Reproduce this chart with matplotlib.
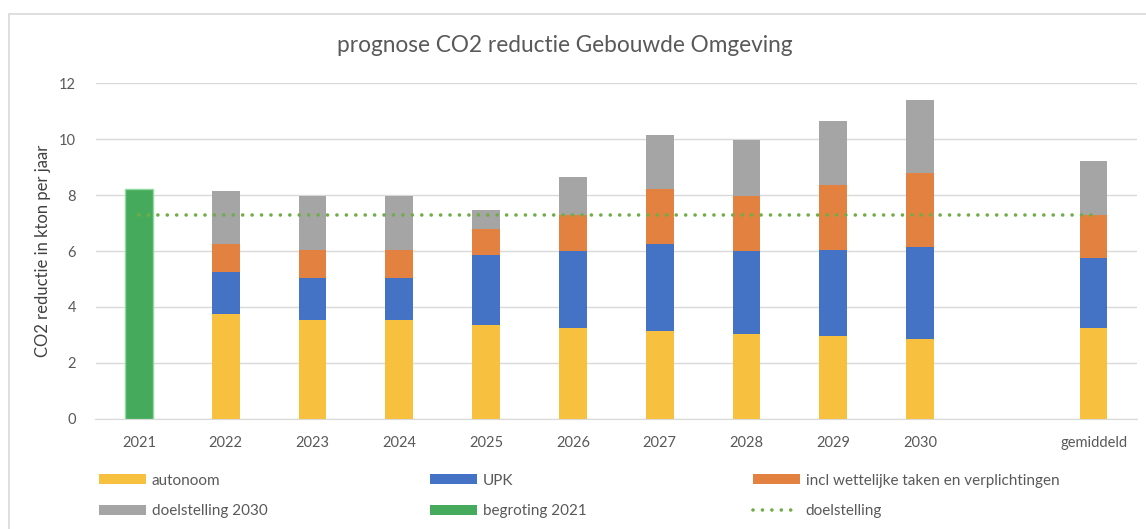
import numpy as np
import matplotlib
matplotlib.use("Agg")
import matplotlib.pyplot as plt
from matplotlib.patches import Rectangle, Patch
from matplotlib.lines import Line2D

plt.rcParams['font.family'] = ['Lato', 'DejaVu Sans']

# === Data (kton CO2 per jaar) ===
categories = ["2021", "2022", "2023", "2024", "2025", "2026", "2027", "2028", "2029", "2030", "", "gemiddeld"]
autonoom = [0, 3.75, 3.55, 3.55, 3.35, 3.25, 3.15, 3.05, 2.95, 2.85, 0, 3.25]
upk = [0, 1.5, 1.5, 1.5, 2.5, 2.75, 3.1, 2.95, 3.1, 3.3, 0, 2.5]
wettelijk = [0, 1.0, 1.0, 1.0, 0.95, 1.3, 1.95, 1.95, 2.3, 2.65, 0, 1.55]
doel_2030 = [0, 1.9, 1.9, 1.9, 0.65, 1.35, 1.95, 2.0, 2.3, 2.6, 0, 1.9]
begroting_2021 = [8.2, 0, 0, 0, 0, 0, 0, 0, 0, 0, 0, 0]
doelstelling = [7.3] * 12

# === Colours ===
c_auto = "#F8C03F"
c_upk = "#4472C4"
c_wet = "#E38240"
c_doel = "#A5A5A5"
c_begr = "#45AA5B"
c_line = "#70AD47"
c_text = "#595959"
c_grid = "#D9D9D9"
dots = (0, (0.01, 2.6))

fig = plt.figure(figsize=(11.46, 5.29), dpi=100)
ax = fig.add_axes([95.5 / 1146, 1 - 419 / 529, 1041.5 / 1146, 336 / 529])

x = np.arange(len(categories))
w = 0.32

b1 = np.array(autonoom)
b2 = b1 + np.array(upk)
b3 = b2 + np.array(wettelijk)

ax.bar(x, autonoom, w, color=c_auto, zorder=3)
ax.bar(x, upk, w, bottom=b1, color=c_upk, zorder=3)
ax.bar(x, wettelijk, w, bottom=b2, color=c_wet, zorder=3)
ax.bar(x, doel_2030, w, bottom=b3, color=c_doel, zorder=3)
begr = np.array(begroting_2021)
has_begr = begr > 0
ax.bar(x[has_begr], begr[has_begr], w, color=c_begr, edgecolor="#8FD89E", linewidth=1, zorder=3)
ax.plot(x, doelstelling, color=c_line, linestyle=dots, linewidth=2.6,
        dash_capstyle="round", zorder=4)

# === Axes styling ===
ax.set_xlim(-0.5, len(categories) - 0.5)
ax.set_ylim(0, 12)
ax.set_yticks(range(0, 13, 2))
ax.set_xticks(x)
ax.set_xticklabels(categories)
ax.tick_params(axis="both", length=0, colors=c_text, labelsize=10.5)
ax.tick_params(axis="y", pad=14)
ax.tick_params(axis="x", pad=12)
for s in ["top", "right", "left"]:
    ax.spines[s].set_visible(False)
ax.spines["bottom"].set_color(c_grid)
ax.yaxis.grid(True, color=c_grid, linewidth=1, zorder=0)
ax.set_axisbelow(True)
ax.set_ylabel("CO2 reductie in kton per jaar", color="#404040", fontsize=12, labelpad=6)

fig.text(565 / 1146, 1 - 46 / 529, "prognose CO2 reductie Gebouwde Omgeving",
         ha="center", va="center", fontsize=16.3, color=c_text)

# chart border
fig.patches.append(Rectangle((8.5 / 1146, -0.1), 1.2, 1 - 13.5 / 529 + 0.1,
                             transform=fig.transFigure, fill=False,
                             edgecolor=c_grid, linewidth=1.2))

# === Legend: three columns placed like the original ===
columns = [
    (99, [Patch(facecolor=c_auto), Patch(facecolor=c_doel)],
     ["autonoom", "doelstelling 2030"]),
    (430, [Patch(facecolor=c_upk), Patch(facecolor=c_begr)],
     ["UPK", "begroting 2021"]),
    (753, [Patch(facecolor=c_wet),
           Line2D([], [], color=c_line, linestyle=dots, linewidth=2.6, dash_capstyle="round")],
     ["incl wettelijke taken en verplichtingen", "doelstelling"]),
]
for x0, hs, ls in columns:
    fig.legend(hs, ls, loc="center left", frameon=False,
               bbox_to_anchor=(x0 / 1146, 1 - 496 / 529),
               fontsize=11, labelcolor=c_text, handlelength=3.1, handleheight=0.65,
               handletextpad=0.35, labelspacing=1.1, borderpad=0, borderaxespad=0)

fig.savefig("out.png", dpi=100)
